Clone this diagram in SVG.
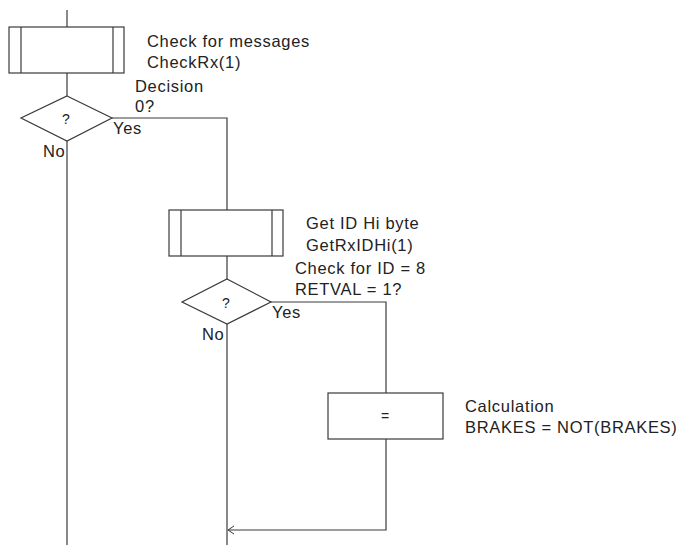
<svg xmlns="http://www.w3.org/2000/svg" width="683" height="545" viewBox="0 0 683 545">
<style>
.s{fill:#fff;stroke:#3a3a3a;stroke-width:1.2}
.c{fill:none;stroke:#3a3a3a;stroke-width:1.2}
text{font-family:"Liberation Sans",Arial,sans-serif;font-size:16.5px;fill:#222;letter-spacing:0.7px}
.m{font-size:14px;letter-spacing:0}
</style>
<defs>
<marker id="a" markerWidth="8" markerHeight="10" refX="7" refY="5" orient="auto" markerUnits="userSpaceOnUse">
<path d="M1,1 L7,5 L1,9" fill="none" stroke="#3a3a3a" stroke-width="1"/>
</marker>
</defs>
<rect width="683" height="545" fill="#fff"/>
<g id="connectors">
<line class="c" x1="67" y1="10" x2="67" y2="27"/>
<line class="c" x1="67" y1="73" x2="67" y2="96"/>
<line class="c" x1="67" y1="141" x2="67" y2="545"/>
<polyline class="c" points="112,118 227,118 227,210"/>
<line class="c" x1="227" y1="256" x2="227" y2="279"/>
<line class="c" x1="227" y1="324" x2="227" y2="545"/>
<polyline class="c" points="271,302 386,302 386,393"/>
<polyline class="c" points="386,439 386,530 228,530" marker-end="url(#a)"/>
<text x="113" y="134">Yes</text>
<text x="43" y="157">No</text>
<text x="272" y="318">Yes</text>
<text x="202" y="340">No</text>
</g>
<g id="sub1">
<rect class="s" x="9" y="27" width="115" height="46"/>
<line class="c" x1="21" y1="27" x2="21" y2="73"/>
<line class="c" x1="113" y1="27" x2="113" y2="73"/>
<text x="147" y="47">Check for messages</text>
<text x="147" y="68">CheckRx(1)</text>
</g>
<g id="dec1">
<polygon class="s" points="67,96 112,118 67,141 21,118"/>
<text class="m" x="62" y="124">?</text>
<text x="135" y="92">Decision</text>
<text x="135" y="112">0?</text>
</g>
<g id="sub2">
<rect class="s" x="169" y="210" width="114" height="46"/>
<line class="c" x1="181" y1="210" x2="181" y2="256"/>
<line class="c" x1="272" y1="210" x2="272" y2="256"/>
<text x="306" y="229">Get ID Hi byte</text>
<text x="306" y="251">GetRxIDHi(1)</text>
</g>
<g id="dec2">
<polygon class="s" points="227,279 271,302 227,324 182,302"/>
<text class="m" x="222" y="308">?</text>
<text x="295" y="274">Check for ID = 8</text>
<text x="295" y="295">RETVAL = 1?</text>
</g>
<g id="calc">
<rect class="s" x="328" y="393" width="115" height="46"/>
<text class="m" x="381" y="421">=</text>
<text x="465" y="412">Calculation</text>
<text x="465" y="433">BRAKES = NOT(BRAKES)</text>
</g>
</svg>
